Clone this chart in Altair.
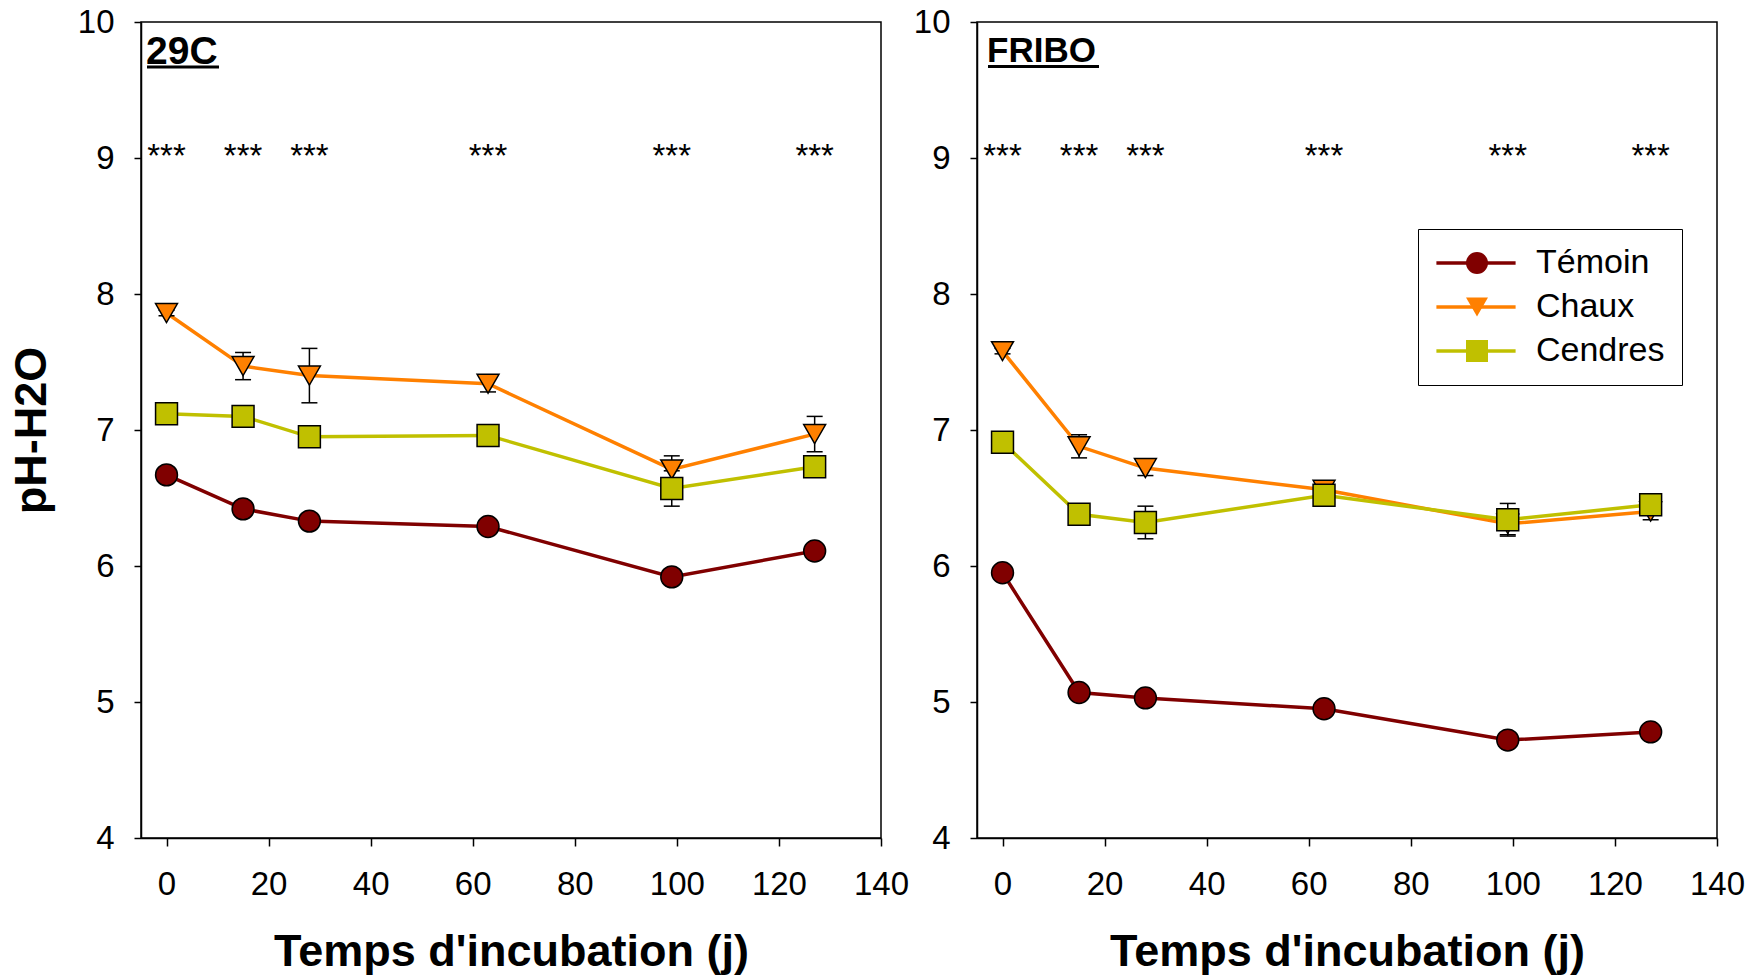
import altair as alt
import pandas as pd

FONT = "Liberation Sans"

# Sampling days and treatments
days = [0, 15, 28, 63, 99, 127]
treatments = ["Témoin", "Chaux", "Cendres"]
line_colors = ["#800000", "#FF8000", "#C0C000"]
marker_shapes = ["circle", "triangle-down", "square"]

# Site 29C: mean pH-H2O and standard error
ph_29c_temoin = [6.67, 6.42, 6.33, 6.29, 5.92, 6.11]
ph_29c_chaux = [7.86, 7.47, 7.40, 7.34, 6.71, 6.97]
ph_29c_cendres = [7.12, 7.10, 6.95, 6.96, 6.57, 6.73]
se_29c_temoin = [0.02, 0.02, 0.02, 0.02, 0.02, 0.02]
se_29c_chaux = [0.02, 0.10, 0.20, 0.06, 0.10, 0.13]
se_29c_cendres = [0.03, 0.03, 0.03, 0.03, 0.13, 0.03]

# Site FRIBO: mean pH-H2O and standard error
ph_fribo_temoin = [5.95, 5.07, 5.03, 4.95, 4.72, 4.78]
ph_fribo_chaux = [7.58, 6.88, 6.72, 6.56, 6.31, 6.40]
ph_fribo_cendres = [6.91, 6.38, 6.32, 6.52, 6.34, 6.45]
se_fribo_temoin = [0.02, 0.02, 0.02, 0.02, 0.02, 0.02]
se_fribo_chaux = [0.02, 0.085, 0.055, 0.03, 0.08, 0.06]
se_fribo_cendres = [0.03, 0.03, 0.12, 0.03, 0.12, 0.03]

# Significance marks drawn above each sampling day
signif = ["***", "***", "***", "***", "***", "***"]
signif_level = 9.0

sites = {
    "29C": {
        "Témoin": (ph_29c_temoin, se_29c_temoin),
        "Chaux": (ph_29c_chaux, se_29c_chaux),
        "Cendres": (ph_29c_cendres, se_29c_cendres),
    },
    "FRIBO": {
        "Témoin": (ph_fribo_temoin, se_fribo_temoin),
        "Chaux": (ph_fribo_chaux, se_fribo_chaux),
        "Cendres": (ph_fribo_cendres, se_fribo_cendres),
    },
}

rows = []
for site, series in sites.items():
    for t in treatments:
        ph, se = series[t]
        for d, v, e in zip(days, ph, se):
            rows.append({"Site": site, "Jour": d, "Traitement": t, "pH": v,
                         "bas": round(v - e, 3), "haut": round(v + e, 3)})
df = pd.DataFrame(rows)

stars_df = pd.DataFrame({"Jour": days, "niveau": [signif_level] * len(days), "txt": signif})

# Two stacked legends: one draws the coloured line segments and the labels,
# the other draws the outlined markers on top of the segments.
LEG_X, LEG_Y = 1277, 207
line_legend = alt.Legend(
    title=None, orient="none", legendX=LEG_X, legendY=LEG_Y,
    symbolType="M-3.6,0L3.6,0", symbolSize=484, symbolStrokeWidth=3.5,
    symbolOffset=24,
    labelFont=FONT, labelFontSize=34, labelColor="black", labelOffset=43,
    rowPadding=10, padding=17, strokeColor="black", fillColor="white", zindex=1,
)
marker_legend = alt.Legend(
    title=None, orient="none", legendX=LEG_X, legendY=LEG_Y,
    symbolSize=484, symbolStrokeColor="black", symbolStrokeWidth=1.5, symbolOffset=25,
    labelFont=FONT, labelFontSize=34, labelOpacity=0, labelExpr="' '", labelOffset=43,
    rowPadding=10, padding=17, zindex=2,
)


def panel(site, head_size, head_x, head_y, ul_x2, ul_y, show_y_title):
    data = df[df["Site"] == site]
    x_enc = alt.X(
        "Jour:Q",
        scale=alt.Scale(domain=[-5, 140], nice=False, zero=False),
        axis=alt.Axis(values=list(range(0, 141, 20)), title="Temps d'incubation (j)",
                      titleY=127.5, titleBaseline="alphabetic", labelFlush=False),
    )
    y_scale = alt.Scale(domain=[4, 10], nice=False, zero=False)
    y_axis = alt.Axis(values=[4, 5, 6, 7, 8, 9, 10],
                      title="pH-H2O" if show_y_title else None,
                      titleX=-96, titleBaseline="alphabetic")

    lines = alt.Chart(data).transform_calculate(Serie="datum.Traitement").mark_line(
        strokeWidth=3.5
    ).encode(
        x=x_enc,
        y=alt.Y("pH:Q", scale=y_scale, axis=y_axis),
        stroke=alt.Stroke("Serie:N", sort=treatments,
                          scale=alt.Scale(range=line_colors), legend=line_legend),
    )

    err = alt.Chart(data).mark_rule(color="black", strokeWidth=1.5).encode(
        x=x_enc, y=alt.Y("bas:Q", scale=y_scale, axis=y_axis), y2="haut:Q"
    )
    cap_lo = alt.Chart(data).mark_tick(
        orient="horizontal", size=16, thickness=1.5, color="black", opacity=1
    ).encode(x=x_enc, y=alt.Y("bas:Q", scale=y_scale, axis=y_axis))
    cap_hi = alt.Chart(data).mark_tick(
        orient="horizontal", size=16, thickness=1.5, color="black", opacity=1
    ).encode(x=x_enc, y=alt.Y("haut:Q", scale=y_scale, axis=y_axis))

    points = alt.Chart(data).mark_point(
        filled=True, size=480, stroke="black", strokeWidth=1.5, opacity=1
    ).encode(
        x=x_enc,
        y=alt.Y("pH:Q", scale=y_scale, axis=y_axis),
        fill=alt.Fill("Traitement:N",
                      scale=alt.Scale(domain=treatments, range=line_colors),
                      legend=marker_legend),
        shape=alt.Shape("Traitement:N",
                        scale=alt.Scale(domain=treatments, range=marker_shapes),
                        legend=marker_legend),
    )

    stars = alt.Chart(stars_df).mark_text(
        font=FONT, fontSize=33, baseline="alphabetic", dy=9, color="black"
    ).encode(x=x_enc, y=alt.Y("niveau:Q", scale=y_scale, axis=y_axis), text="txt:N")

    head_df = pd.DataFrame({"txt": [site]})
    head = alt.Chart(head_df).mark_text(
        font=FONT, fontSize=head_size, fontWeight="bold", align="left",
        baseline="alphabetic", color="black"
    ).encode(x=alt.value(head_x), y=alt.value(head_y), text="txt:N")
    underline = alt.Chart(head_df).mark_rule(color="black", strokeWidth=3).encode(
        x=alt.value(head_x + 1), x2=alt.value(ul_x2), y=alt.value(ul_y)
    )

    return alt.layer(lines, err, cap_lo, cap_hi, points, stars, head, underline).properties(
        width=740, height=816
    )


left = panel("29C", 39, 5, 41.6, 78, 45, True)
right = panel("FRIBO", 35, 10, 40, 122, 44.6, False)

chart = alt.hconcat(left, right, spacing=96, bounds="flush").properties(
    padding={"left": 8, "top": 5, "right": 10, "bottom": 2}
).configure_view(
    stroke="black", strokeWidth=1.5
).configure_axis(
    labelFont=FONT, labelFontSize=33, labelColor="black",
    titleFont=FONT, titleFontSize=45, titleFontWeight="bold", titleColor="black",
    domainColor="black", domainWidth=1.5, tickColor="black", tickWidth=1.5,
    grid=False,
).configure_axisX(
    tickSize=8, labelPadding=22
).configure_axisY(
    tickSize=7, labelPadding=20
)

chart.save("out.html", embed_options={"renderer": "svg", "actions": False})
